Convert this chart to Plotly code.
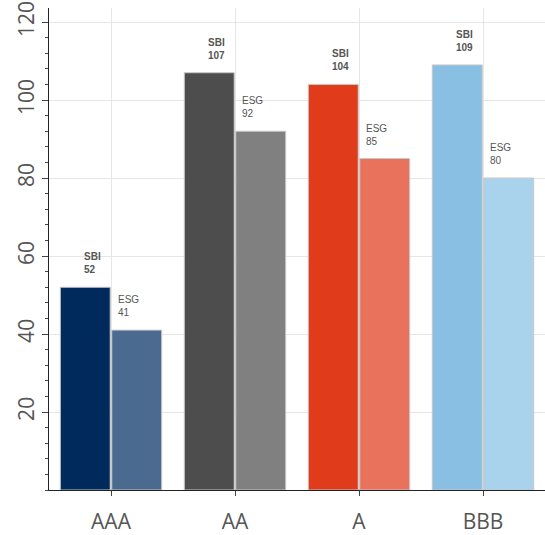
import plotly.graph_objects as go

categories = ["AAA", "AA", "A", "BBB"]
sbi_values = [52, 107, 104, 109]
esg_values = [41, 92, 85, 80]
sbi_colors = ["#002A5C", "#4D4D4D", "#E03B1A", "#88BFE3"]
esg_colors = ["#4A6A8F", "#808080", "#E8725C", "#A9D3EC"]
y_ticks = [20, 40, 60, 80, 100, 120]

fig = go.Figure()
fig.add_trace(go.Bar(x=categories, y=sbi_values, name="SBI",
                     marker=dict(color=sbi_colors, line=dict(color="#c8c8c8", width=1)),
                     hoverinfo="x+y"))
fig.add_trace(go.Bar(x=categories, y=esg_values, name="ESG",
                     marker=dict(color=esg_colors, line=dict(color="#c8c8c8", width=1)),
                     hoverinfo="x+y"))

annotations = []
for i, c in enumerate(categories):
    annotations.append(dict(x=c, y=sbi_values[i], xref="x", yref="y",
                            text=f"<b>SBI<br>{sbi_values[i]}</b>", showarrow=False,
                            xanchor="right", yanchor="bottom", align="left",
                            xshift=-8, yshift=10,
                            font=dict(family="Liberation Sans, Arial", size=10, color="#555")))
    annotations.append(dict(x=c, y=esg_values[i], xref="x", yref="y",
                            text=f"ESG<br>{esg_values[i]}", showarrow=False,
                            xanchor="left", yanchor="bottom", align="left",
                            xshift=5, yshift=10,
                            font=dict(family="Liberation Sans, Arial", size=10, color="#555")))

fig.update_layout(
    width=545, height=535,
    margin=dict(l=49, r=0, t=8, b=45),
    paper_bgcolor="white", plot_bgcolor="white",
    barmode="group", bargap=0.17, bargroupgap=0.03,
    showlegend=False,
    annotations=annotations,
    font=dict(family="Open Sans, Liberation Sans", color="#555"),
)
fig.update_xaxes(showline=True, linecolor="#222", linewidth=1, automargin=False,
                 showgrid=True, gridcolor="#e6e6e6",
                 ticks="outside", ticklen=5, tickcolor="#444", ticklabelstandoff=8,
                 tickfont=dict(size=21, color="#555"))
fig.update_yaxes(range=[0, 123.6], showline=True, linecolor="#222", linewidth=1, automargin=False,
                 showgrid=True, gridcolor="#e6e6e6", zeroline=False,
                 tickmode="array", tickvals=y_ticks, ticks="outside", ticklen=6, tickcolor="#444",
                 tickangle=-90, tickfont=dict(size=21, color="#555"),
                 minor=dict(tickmode="linear", tick0=0, dtick=4, ticks="outside", ticklen=3,
                            tickcolor="#444", showgrid=False))
fig.write_html("out.html", config={"displayModeBar": False},
               post_script="document.body.style.margin='0';document.body.style.overflow='hidden';")
